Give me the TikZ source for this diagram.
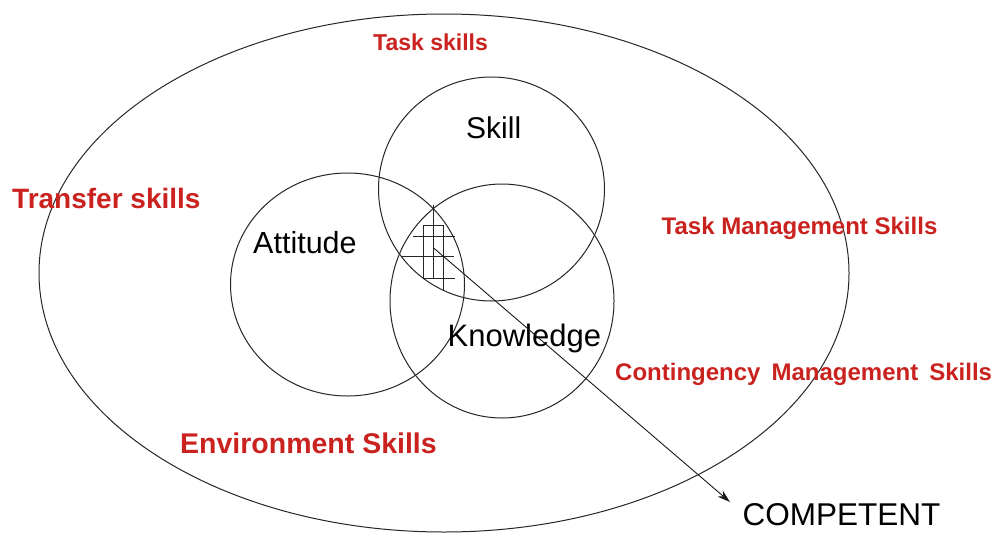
\documentclass[tikz,border=0pt]{standalone}
\usepackage{fontspec}
\setmainfont{Liberation Sans}
\usetikzlibrary{arrows.meta}
\definecolor{skillred}{RGB}{202,34,30}
\begin{document}
\begin{tikzpicture}[x=1pt,y=-1pt,
  ring/.style={draw=black!85, line width=1pt},
  gridline/.style={draw=black!85, line width=1pt},
  redlab/.style={text=skillred, font=\bfseries, inner sep=0pt, anchor=base west},
  blklab/.style={text=black, inner sep=0pt, anchor=base west}]
\useasboundingbox (0,0) rectangle (995,533);
\fill[white] (0,0) rectangle (995,533);

% outer ellipse and the three circles
\draw[ring] (444,273) ellipse [x radius=405pt, y radius=259pt];
\draw[ring] (491.5,189) ellipse [x radius=113pt, y radius=112pt];
\draw[ring] (347.5,284.5) ellipse [x radius=117pt, y radius=111.5pt];
\draw[ring] (502,301) ellipse [x radius=112pt, y radius=117pt];

% hatch in the common region
\draw[gridline] (433.3,205) -- (433.3,278.3);
\draw[gridline] (423.3,278.3) -- (423.3,225.7) -- (443.3,225.7) -- (443.3,290);
\draw[gridline] (413,236.7) -- (455,236.7);
\draw[gridline] (401,256.7) -- (454.3,256.7);
\draw[gridline] (423.3,278.3) -- (455,278.3);

% labels
\node[redlab, font=\bfseries\fontsize{23}{27}\selectfont] (task) at (373,50.5) {Task skills};
\node[redlab, font=\bfseries\fontsize{28}{33}\selectfont] (transfer) at (12,208.3) {Transfer skills};
\node[redlab, font=\bfseries\fontsize{24}{28}\selectfont] (taskman) at (661.5,234) {Task Management Skills};
\node[redlab, font=\bfseries\fontsize{24}{28}\selectfont] (conting) at (615,380) {Contingency\hspace{0.46em}Management\hspace{0.46em}Skills};
\node[redlab, font=\bfseries\fontsize{28.5}{33}\selectfont] (env) at (180,453.3) {Environment Skills};

\node[blklab, font=\fontsize{30}{35}\selectfont] (skill) at (466,138.3) {Skill};
\node[blklab, font=\fontsize{30.5}{35}\selectfont] (attitude) at (253,253.3) {Attitude};
\node[blklab, font=\fontsize{31}{36}\selectfont] (knowledge) at (447.5,346.3) {Knowledge};
\node[blklab, font=\fontsize{31.5}{36}\selectfont] (comp) at (742.5,525) {COMPETENT};

% arrow
\coordinate (core) at (433.3,247.7);
\coordinate (tip) at (730,502);
\draw[line width=0.9pt, draw=black!90, -{Stealth[length=13pt,width=8pt]}] (core) -- (tip);
\end{tikzpicture}
\end{document}
